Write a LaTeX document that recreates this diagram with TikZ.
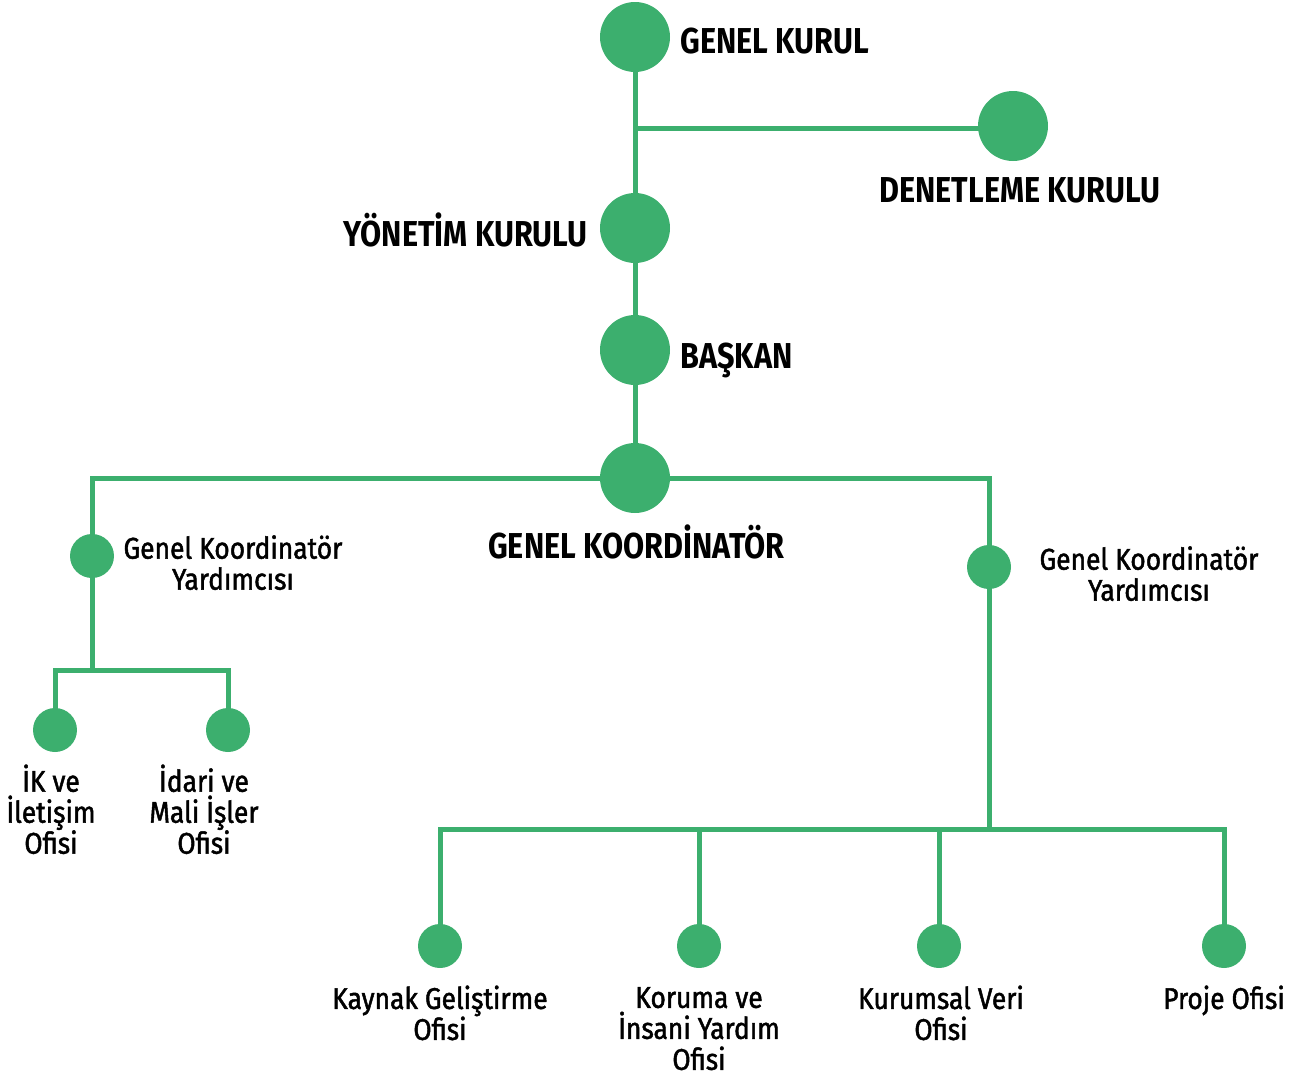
\documentclass[tikz,border=0pt]{standalone}
\usepackage{fontspec}
\setmainfont[FakeStretch=0.85]{Fira Sans}
\newfontfamily\unitfont[FakeStretch=0.88,FakeBold=1.5]{Fira Sans}
\usetikzlibrary{positioning}
\definecolor{orggreen}{RGB}{60,175,110}

\tikzset{
  big dot/.style={circle,fill=orggreen,minimum size=52.5pt,inner sep=0},
  small dot/.style={circle,fill=orggreen,minimum size=33pt,inner sep=0},
  head label/.style={inner sep=0,font=\fontsize{27}{29}\selectfont\bfseries},
  unit label/.style={inner sep=0,align=center,font=\unitfont\fontsize{22.5}{23.25}\selectfont},
  link/.style={draw=orggreen,line width=3.75pt}
}

\begin{document}
\begin{tikzpicture}[x=0.75pt,y=-0.75pt]
\useasboundingbox (0,0) rectangle (1315,1079);

% top of the chart
\node[big dot] (genel kurul) at (635,37) {};
\node[big dot] (denetleme) at (1013,126) {};
\node[big dot] (yonetim) at (635,228) {};
\node[big dot] (baskan) at (635,350) {};
\node[big dot] (koordinator) at (635,478) {};

% deputies
\node[small dot] (left gky) at (92,556) {};
\node[small dot] (right gky) at (989,567) {};

% offices
\node[small dot] (ik) at (55,730) {};
\node[small dot] (idari) at (228,730) {};
\node[small dot] (kaynak) at (440,946) {};
\node[small dot] (koruma) at (699,946) {};
\node[small dot] (kurumsal) at (939,946) {};
\node[small dot] (proje) at (1224,946) {};

\coordinate (den split) at (635,128);
\coordinate (left split) at (92,670);
\coordinate (right split) at (989,829);

\draw[link] (genel kurul.center) -- (yonetim.center) -- (baskan.center) -- (koordinator.center);
\draw[link] (den split) -- (den split -| denetleme.center);
\draw[link] (left gky.center) |- (koordinator.center) -| (right gky.center);
\draw[link] (left gky.center) -- (left split);
\draw[link] (ik.center) |- (left split) -| (idari.center);
\draw[link] (right gky.center) -- (right split);
\draw[link] (kaynak.center) |- (right split) -| (proje.center);
\draw[link] (koruma.center) -- (koruma.center |- right split);
\draw[link] (kurumsal.center) -- (kurumsal.center |- right split);

\node[head label,right=7.5pt of genel kurul,anchor=base west,yshift=-12pt] (genel kurul text) {GENEL KURUL};
\node[head label,below=30.75pt of denetleme,anchor=base,xshift=5pt] (denetleme text) {DENETLEME KURULU};
\node[head label,left=9pt of yonetim,anchor=base east,yshift=-13.5pt] (yonetim text) {YÖNETİM KURULU};
\node[head label,right=7.5pt of baskan,anchor=base west,yshift=-13.5pt] (baskan text) {BAŞKAN};
\node[head label,below=33.75pt of koordinator,anchor=base,xshift=1pt] (koordinator text) {GENEL KOORDİNATÖR};

\node[unit label,right=6.75pt of left gky,anchor=north west,yshift=15.75pt] (left gky text) {Genel Koordinatör\\Yardımcısı};
\node[unit label,right=21pt of right gky,anchor=north west,yshift=15.75pt] (right gky text) {Genel Koordinatör\\Yardımcısı};

\node[unit label,below=9pt of ik,xshift=-3pt] (ik text) {İK ve\\İletişim\\Ofisi};
\node[unit label,below=9pt of idari,xshift=-18pt] (idari text) {İdari ve\\Mali İşler\\Ofisi};
\node[unit label,below=12.75pt of kaynak] (kaynak text) {Kaynak Geliştirme\\Ofisi};
\node[unit label,below=14pt of koruma] (koruma text) {Koruma ve\\İnsani Yardım\\Ofisi};
\node[unit label,below=12.75pt of kurumsal,xshift=1.5pt] (kurumsal text) {Kurumsal Veri\\Ofisi};
\node[unit label,below=12.75pt of proje] (proje text) {Proje Ofisi};
\end{tikzpicture}
\end{document}
